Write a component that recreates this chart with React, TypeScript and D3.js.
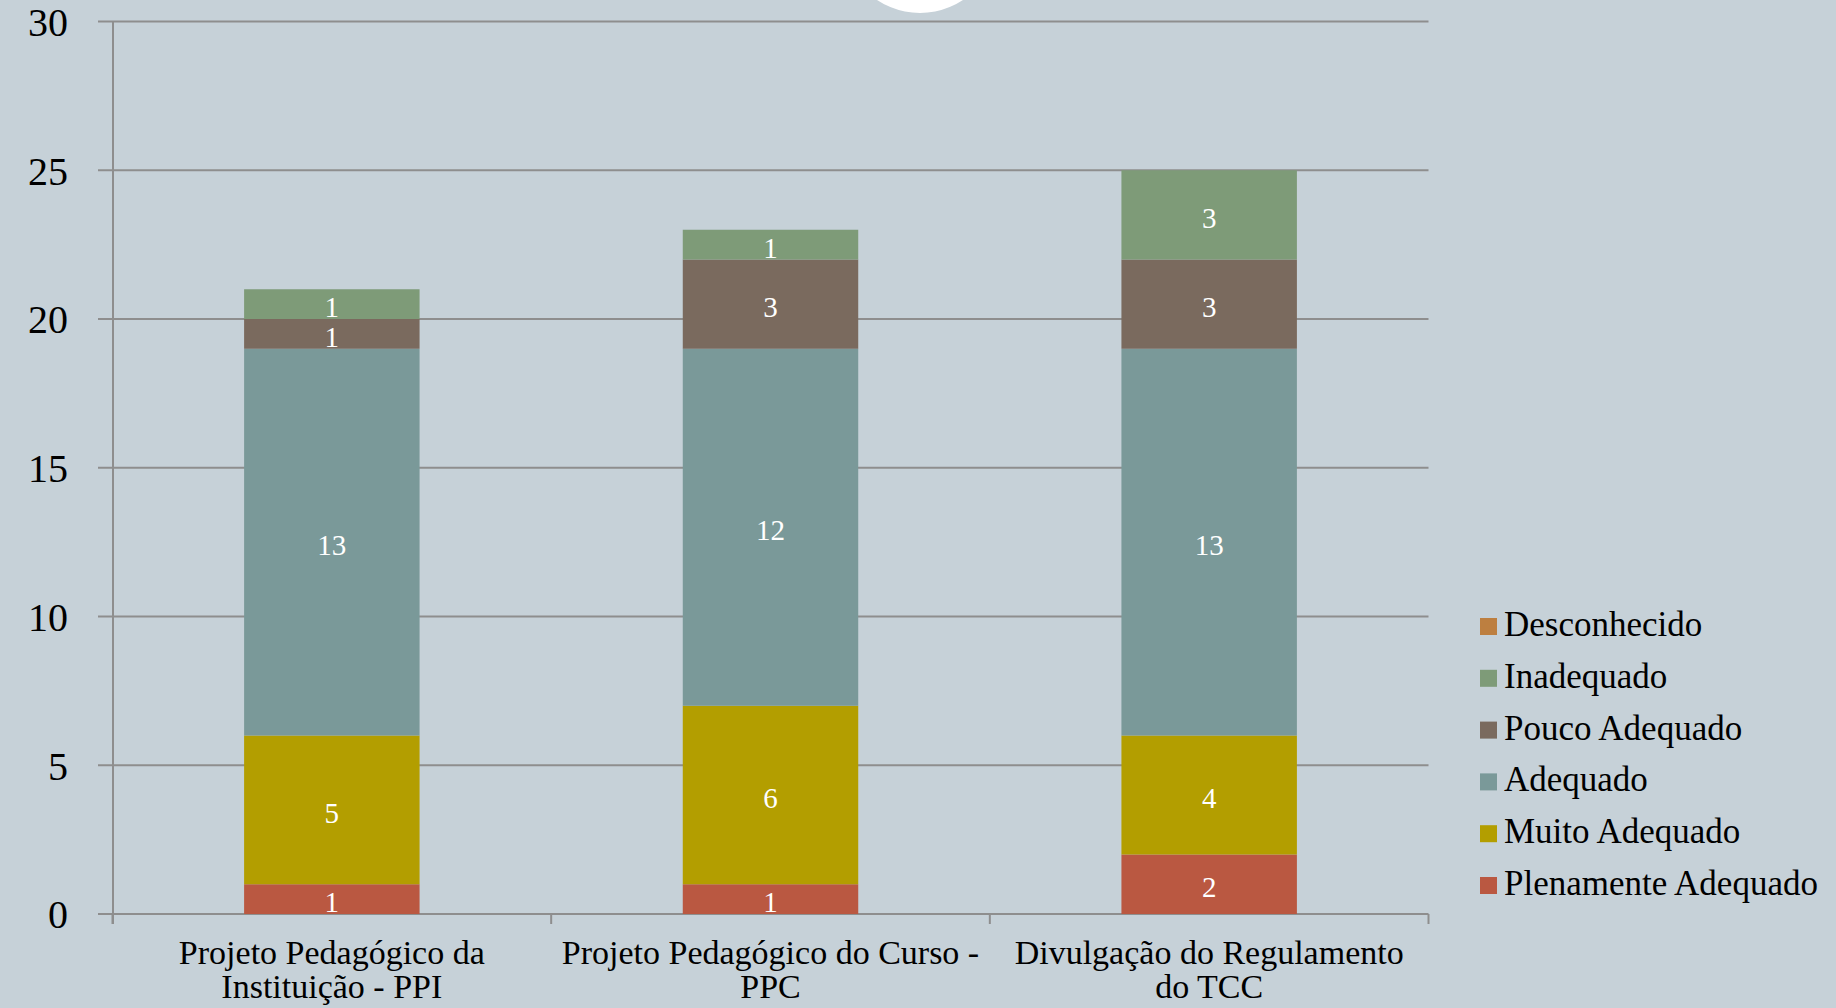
import React from "react";
import * as d3 from "d3";

const categories = [
  "Projeto Pedagógico da Instituição - PPI",
  "Projeto Pedagógico do Curso - PPC",
  "Divulgação do Regulamento do TCC",
];
const categoryLines = [
  ["Projeto Pedagógico da", "Instituição - PPI"],
  ["Projeto Pedagógico do Curso -", "PPC"],
  ["Divulgação do Regulamento", "do TCC"],
];
// stacking order bottom -> top
const seriesNames = [
  "Plenamente Adequado",
  "Muito Adequado",
  "Adequado",
  "Pouco Adequado",
  "Inadequado",
  "Desconhecido",
];
const plenamente = [1, 1, 2];
const muito = [5, 6, 4];
const adequado = [13, 12, 13];
const pouco = [1, 3, 3];
const inadequado = [1, 1, 3];
const desconhecido = [0, 0, 0];
const seriesColors = ["#BA5841", "#B39E00", "#7A9999", "#7A6A5E", "#7E9B78", "#BD7F40"];
const yTicks = [0, 5, 10, 15, 20, 25, 30];

const W = 1836;
const H = 1008;
const FONT = "'Liberation Serif', 'Times New Roman', serif";

export default function App() {
  const seriesValues = [plenamente, muito, adequado, pouco, inadequado, desconhecido];
  const table = categories.map((c, i) => {
    const row: any = { cat: c };
    seriesNames.forEach((s, j) => (row[s] = seriesValues[j][i]));
    return row;
  });
  const stacked = d3.stack<any>().keys(seriesNames)(table);

  const x = d3.scaleBand<string>().domain(categories).range([112.5, 1428.5]).padding(0);
  const y = d3.scaleLinear().domain([0, 30]).range([914, 21.5]);
  const bw = x.bandwidth() * 0.4;
  const axisColor = "#8E8E8E";

  const legendItems = seriesNames.map((s, i) => ({ name: s, color: seriesColors[i] })).reverse();

  return (
    <div style={{ position: "fixed", left: 0, top: 0 }}>
      <svg width={W} height={H} style={{ display: "block" }}>
        <rect x={0} y={0} width={W} height={H} fill="#C6D1D8" />
        <circle cx={920} cy={-64.6} r={77.6} fill="#FFFFFF" />
        {/* gridlines */}
        {yTicks.map((t) => (
          <line key={t} x1={98} x2={1428.5} y1={y(t)} y2={y(t)} stroke={axisColor} strokeWidth={2} />
        ))}
        {/* y axis */}
        <line x1={113} x2={113} y1={y(30)} y2={924} stroke={axisColor} strokeWidth={2} />
        {yTicks.map((t) => (
          <text
            key={"l" + t}
            x={68}
            y={y(t)}
            dy="0.36em"
            textAnchor="end"
            fontFamily={FONT}
            fontSize={40}
            fill="#000"
          >
            {t}
          </text>
        ))}
        {/* x ticks */}
        {[...categories.map((c) => x(c)!), x.range()[1]].map((xx, i) => (
          <line key={"xt" + i} x1={xx} x2={xx} y1={914} y2={924} stroke={axisColor} strokeWidth={2} />
        ))}
        {/* bars */}
        {stacked.map((layer, si) =>
          layer.map((d, ci) => {
            const v = d[1] - d[0];
            if (v <= 0) return null;
            const cx = x(categories[ci])! + x.bandwidth() / 2;
            return (
              <g key={si + "-" + ci}>
                <rect
                  x={cx - bw / 2}
                  y={y(d[1])}
                  width={bw}
                  height={y(d[0]) - y(d[1])}
                  fill={seriesColors[si]}
                />
                <text
                  x={cx}
                  y={(y(d[0]) + y(d[1])) / 2}
                  dy="0.45em"
                  textAnchor="middle"
                  fontFamily={FONT}
                  fontSize={29}
                  fill="#FFFFFF"
                >
                  {v}
                </text>
              </g>
            );
          })
        )}
        {/* category labels */}
        {categories.map((c, i) => (
          <text
            key={"c" + i}
            x={x(c)! + x.bandwidth() / 2}
            y={964}
            textAnchor="middle"
            fontFamily={FONT}
            fontSize={34}
            fill="#000"
          >
            {categoryLines[i].map((ln, k) => (
              <tspan key={k} x={x(c)! + x.bandwidth() / 2} y={964 + k * 34}>
                {ln}
              </tspan>
            ))}
          </text>
        ))}
        {/* legend */}
        {legendItems.map((it, i) => {
          const base = 636 + i * 51.8;
          return (
            <g key={"lg" + i}>
              <rect x={1480} y={base - 18} width={17} height={17} fill={it.color} />
              <text x={1504} y={base} fontFamily={FONT} fontSize={35} fill="#000">
                {it.name}
              </text>
            </g>
          );
        })}
      </svg>
    </div>
  );
}
